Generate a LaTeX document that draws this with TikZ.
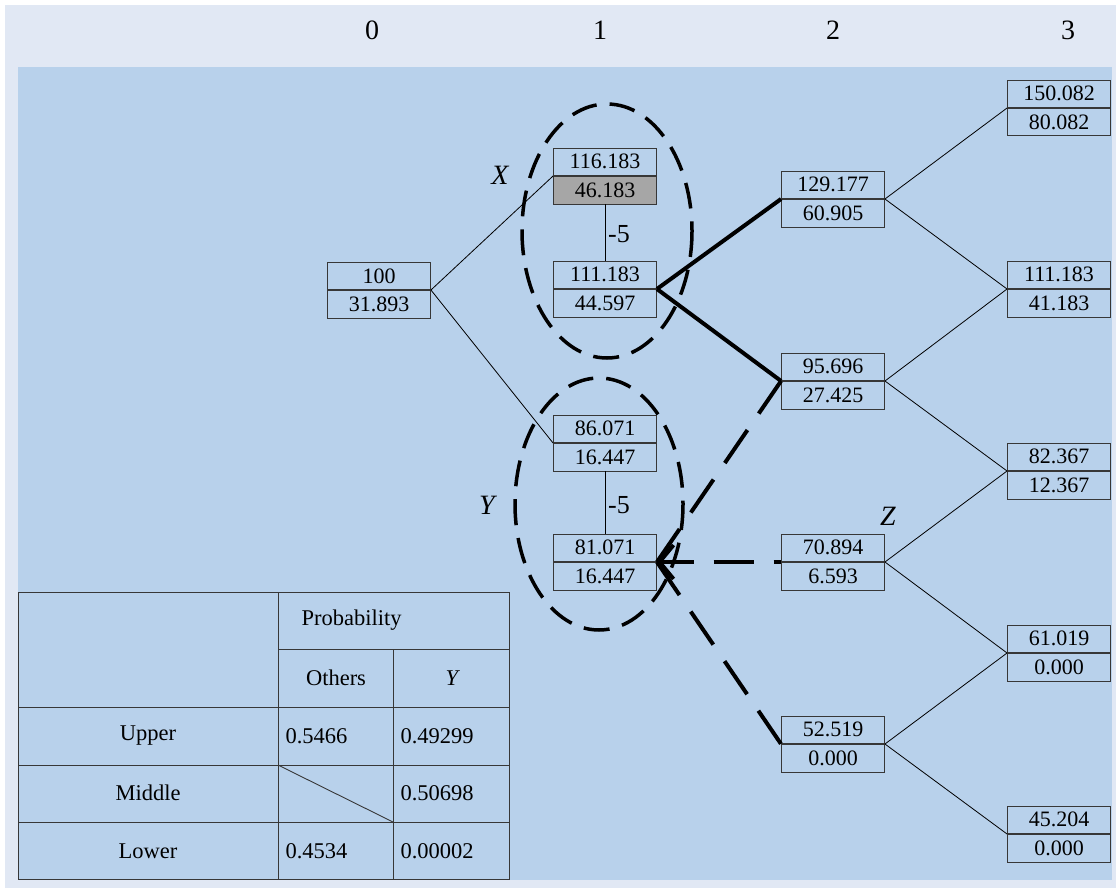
\documentclass[tikz,border=0pt]{standalone}
\usepackage{fontspec}
\setmainfont{Liberation Serif}
\usetikzlibrary{arrows.meta}
\definecolor{bandgray}{RGB}{225,232,244}
\definecolor{paneblue}{RGB}{184,209,235}
\definecolor{cellgray}{RGB}{166,166,166}
\definecolor{edgegray}{RGB}{55,55,55}

\begin{document}
\begin{tikzpicture}[x=1pt, y=-1pt]
\tikzstyle{cell} = [draw=edgegray, line width=0.9pt, minimum width=103pt, minimum height=27.5pt, inner sep=0pt, font=\fontsize{22}{22}\selectfont];
\tikzstyle{upper} = [cell, anchor=south];
\tikzstyle{lower} = [cell, anchor=north];
\tikzstyle{branch} = [line width=0.8pt];
\tikzstyle{route} = [line width=4pt];
\tikzstyle{routedash} = [line width=4pt, dash pattern=on 40pt off 20pt];
\tikzstyle{ring} = [line width=3.5pt, dash pattern=on 26pt off 13pt];
\tikzstyle{tag} = [font=\fontsize{28}{28}\selectfont\itshape];
\tikzstyle{step5} = [anchor=west, inner sep=0pt, font=\fontsize{26}{26}\selectfont];
\tikzstyle{head} = [font=\fontsize{28}{28}\selectfont];
\tikzstyle{tab} = [font=\fontsize{22.5}{22.5}\selectfont];

% background
\fill[white] (0,0) rectangle (1116,888);
\fill[bandgray] (5,5) rectangle (1116,888);
\fill[paneblue] (18,67) rectangle (1112,880);
\useasboundingbox (0,0) rectangle (1116,888);

% time steps
\node [head] (t0) at (372,30) {0};
\node [head] (t1) at (600,30) {1};
\node [head] (t2) at (833,30) {2};
\node [head] (t3) at (1068,30) {3};

% step 0
\node [upper] (n0) at (379,290) {100};
\node [lower] (v0) at (379,290) {31.893};

% step 1
\node [upper] (nxa) at (605,176) {116.183};
\node [lower, fill=cellgray] (vxa) at (605,176) {46.183};
\node [upper] (nx) at (605,289) {111.183};
\node [lower] (vx) at (605,289) {44.597};
\node [upper] (nya) at (605,443) {86.071};
\node [lower] (vya) at (605,443) {16.447};
\node [upper] (ny) at (605,562) {81.071};
\node [lower] (vy) at (605,562) {16.447};

% step 2
\node [upper] (n2a) at (833,199) {129.177};
\node [lower] (v2a) at (833,199) {60.905};
\node [upper] (n2b) at (833,381) {95.696};
\node [lower] (v2b) at (833,381) {27.425};
\node [upper] (n2c) at (833,562) {70.894};
\node [lower] (v2c) at (833,562) {6.593};
\node [upper] (n2d) at (833,744) {52.519};
\node [lower] (v2d) at (833,744) {0.000};

% step 3
\node [upper] (n3a) at (1059,108) {150.082};
\node [lower] (v3a) at (1059,108) {80.082};
\node [upper] (n3b) at (1059,289) {111.183};
\node [lower] (v3b) at (1059,289) {41.183};
\node [upper] (n3c) at (1059,471) {82.367};
\node [lower] (v3c) at (1059,471) {12.367};
\node [upper] (n3d) at (1059,653) {61.019};
\node [lower] (v3d) at (1059,653) {0.000};
\node [upper] (n3e) at (1059,834) {45.204};
\node [lower] (v3e) at (1059,834) {0.000};

% tree
\draw [branch] (n0.south east) -- (nxa.south west);
\draw [branch] (n0.south east) -- (nya.south west);
\draw [branch] (vxa.south) -- (nx.north);
\draw [branch] (vya.south) -- (ny.north);
\node [step5] (dx) at (608,234) {-5};
\node [step5] (dy) at (608,505) {-5};

\draw [route] (nx.south east) -- (n2a.south west);
\draw [route] (nx.south east) -- (n2b.south west);
\draw [routedash] (ny.south east) -- (n2b.south west);
\draw [routedash] (ny.south east) -- (n2d.south west);
\draw [routedash, dash phase=8pt, {Straight Barb[length=14pt, width=34pt]}-] (ny.south east) -- (n2c.south west);

\draw [branch] (n2a.south east) -- (n3a.south west);
\draw [branch] (n2a.south east) -- (n3b.south west);
\draw [branch] (n2b.south east) -- (n3b.south west);
\draw [branch] (n2b.south east) -- (n3c.south west);
\draw [branch] (n2c.south east) -- (n3c.south west);
\draw [branch] (n2c.south east) -- (n3d.south west);
\draw [branch] (n2d.south east) -- (n3d.south west);
\draw [branch] (n2d.south east) -- (n3e.south west);

% groups
\draw [ring] (607,231) ellipse [x radius=85, y radius=127];
\draw [ring] (599,504) ellipse [x radius=84, y radius=126];
\node [tag] (lx) at (500,175) {X};
\node [tag] (ly) at (487,505) {Y};
\node [tag] (lz) at (888,516) {Z};

% probability table
\draw [edgegray, line width=0.9pt] (18,592) rectangle (509,879);
\draw [edgegray, line width=0.9pt] (278,649) -- (509,649);
\draw [edgegray, line width=0.9pt] (18,707) -- (509,707);
\draw [edgegray, line width=0.9pt] (18,765) -- (509,765);
\draw [edgegray, line width=0.9pt] (18,822) -- (509,822);
\draw [edgegray, line width=0.9pt] (278,592) -- (278,879);
\draw [edgegray, line width=0.9pt] (393,649) -- (393,879);
\draw [edgegray, line width=0.9pt] (278,765) -- (393,822);

\node [tab, anchor=west] (hp) at (298,620) {Probability};
\node [tab] (ho) at (336,678) {Others};
\node [tab] (hy) at (452,678) {\itshape Y};
\node [tab] (ru) at (148,736) {Upper};
\node [tab] (rm) at (148,793) {Middle};
\node [tab] (rl) at (148,851) {Lower};
\node [tab, anchor=west] (pu1) at (282,736) {0.5466};
\node [tab, anchor=west] (pu2) at (397,736) {0.49299};
\node [tab, anchor=west] (pm2) at (397,793) {0.50698};
\node [tab, anchor=west] (pl1) at (282,851) {0.4534};
\node [tab, anchor=west] (pl2) at (397,851) {0.00002};
\end{tikzpicture}
\end{document}
